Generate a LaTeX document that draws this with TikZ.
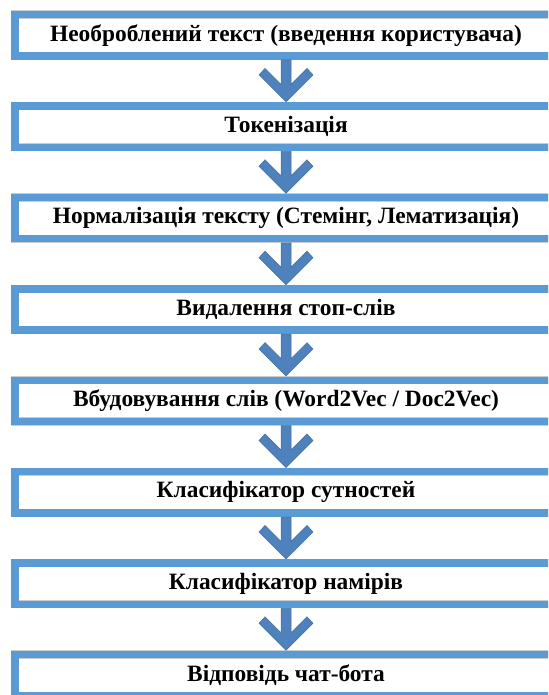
\documentclass[tikz,border=0pt]{standalone}
\usepackage{fontspec}
\setmainfont{Liberation Serif}
\newfontfamily\boxfont{Liberation Serif Bold}
\usetikzlibrary{calc,positioning}
\definecolor{boxblue}{RGB}{91,155,213}
\definecolor{arrblue}{RGB}{79,129,189}
\definecolor{arrline}{RGB}{65,113,156}
\tikzset{x=1pt,y=1pt,
  stepbox/.style={draw=gray!40,double=boxblue,double distance=7.4pt,line width=0.4pt,
    fill=white,outer sep=4.1pt,inner sep=0pt,minimum width=541.8pt,
    minimum height=41.3pt,font=\fontsize{23.4}{25}\boxfont},
  flowarrow/.style={fill=arrblue,draw=arrline,line width=0.5pt,
    to path={let \p1=(\tikztostart.south), \p2=(\tikztotarget.north) in
      (\x1-5pt,\y1) -- (\x1+5pt,\y1) -- (\x1+5pt,\y2+17.5pt) -- (\x1+21pt,\y2+33.5pt)
      -- (\x1+27pt,\y2+27pt) -- (\x1,\y2) -- (\x1-27pt,\y2+27pt)
      -- (\x1-21pt,\y2+33.5pt) -- (\x1-5pt,\y2+17.5pt) -- cycle}}}

\begin{document}
\begin{tikzpicture}
  \clip (0,0) rectangle (548,-695);
  \node[stepbox] (raw) at (286,-35.25) {Необроблений текст (введення користувача)};
  \node[stepbox,below=41.9pt of raw] (token) {Токенізація};
  \node[stepbox,below=41.9pt of token] (norm) {Нормалізація тексту (Стемінг, Лематизація)};
  \node[stepbox,below=41.9pt of norm] (stop) {Видалення стоп-слів};
  \node[stepbox,below=41.9pt of stop] (embed) {Вбудовування слів (Word2Vec / Doc2Vec)};
  \node[stepbox,below=41.9pt of embed] (entity) {Класифікатор сутностей};
  \node[stepbox,below=41.9pt of entity] (intent) {Класифікатор намірів};
  \node[stepbox,below=41.9pt of intent] (reply) {Відповідь чат-бота};
  % arrows between the steps
  \foreach \a/\b in {raw/token,token/norm,norm/stop,stop/embed,embed/entity,
      entity/intent,intent/reply}
    \draw[flowarrow] (\a) to (\b);
\end{tikzpicture}
\end{document}
